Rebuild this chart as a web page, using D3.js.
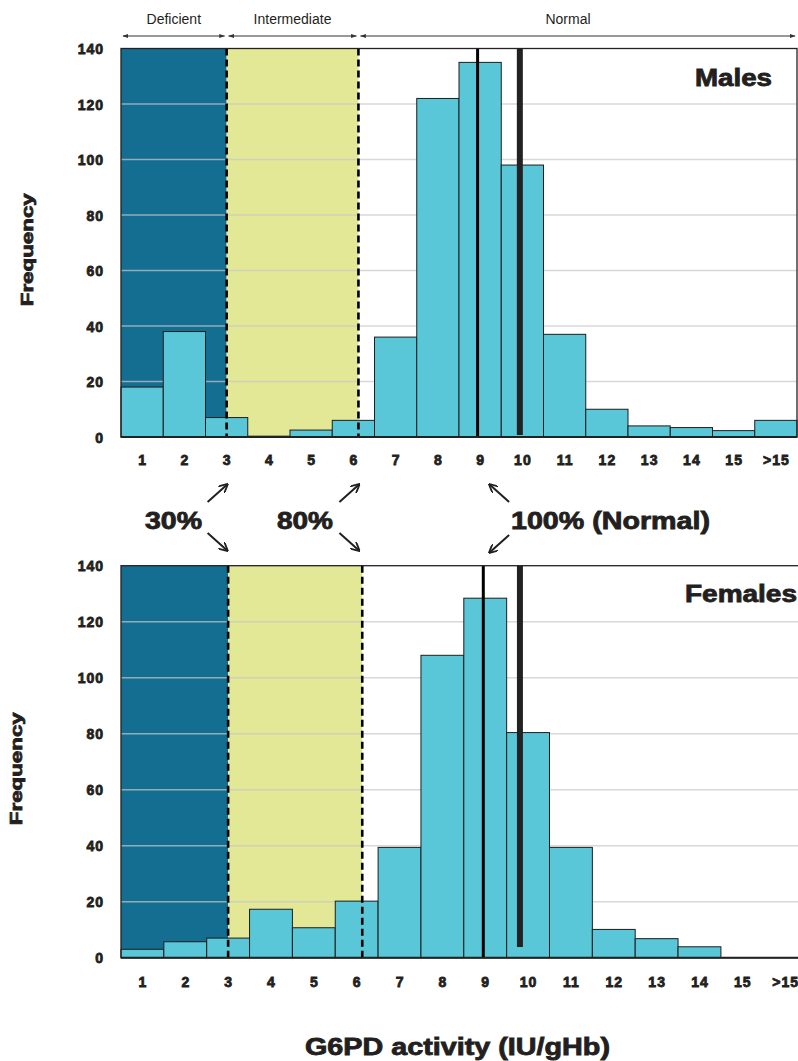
<!DOCTYPE html>
<html>
<head>
<meta charset="utf-8">
<script src="https://cdn.jsdelivr.net/npm/d3@7/dist/d3.min.js"></script>
<style>
  html, body { margin: 0; padding: 0; background: #fff; }
  svg { display: block; }
  text { font-family: "Liberation Sans", Arial, sans-serif; fill: #231f20; }
  .heavy { font-weight: bold; stroke: #231f20; stroke-width: 0.8px; }
</style>
</head>
<body>
<svg id="chart" width="798" height="1061"></svg>
<script>
// ---------------- DATA ----------------
const categories = ["1","2","3","4","5","6","7","8","9","10","11","12","13","14","15",">15"];
const maleValues   = [18, 38, 7, 0.3, 2.5, 6, 36, 122, 135, 98, 37, 10, 4, 3.4, 2.3, 6];
const femaleValues = [3, 5.7, 7, 17.3, 10.7, 20.2, 39.4, 108, 128.4, 80.4, 39.4, 10.1, 6.8, 3.9, 0, 0];
const yTicks = [0, 20, 40, 60, 80, 100, 120, 140];
const zoneNames = ["Deficient", "Intermediate", "Normal"];
// zone limits in activity units (bin k centred on k)
const maleZoneLimits = [3, 6.12];
const femaleZoneLimits = [3, 6.13];
// reference lines: [position, from value, to value, kind]
const maleRefLines = [[8.94, 0, 140, "thin"], [9.94, 0.7, 140, "thick"]];
const femaleRefLines = [[8.955, 0, 140, "thin"], [9.81, 3.8, 140, "thick"]];
const percentLabels = ["30%", "80%", "100% (Normal)"];
const percentTargets = [3, 6.12, 9];

// ---------------- LAYOUT ----------------
const svg = d3.select("#chart");
const colDef = "#146e91", colInt = "#e3e897", colBar = "#59c7d8";

function heavyText(sel, size, width) {
  sel.attr("class", "heavy").attr("font-size", size);
  if (width) sel.attr("textLength", width).attr("lengthAdjust", "spacingAndGlyphs");
  return sel;
}

function panel(opts) {
  const x = d3.scaleLinear().domain([0.5, 16.5]).range([121, opts.right]);
  const y = d3.scaleLinear().domain([0, 140]).range([opts.bottom, opts.top]);
  const g = svg.append("g");
  const [z1, z2] = opts.zones;

  // backgrounds
  g.append("rect").attr("x", x(0.5)).attr("y", y(140)).attr("width", x(z1) - x(0.5))
    .attr("height", y(0) - y(140)).attr("fill", colDef);
  g.append("rect").attr("x", x(z1)).attr("y", y(140)).attr("width", x(z2) - x(z1))
    .attr("height", y(0) - y(140)).attr("fill", colInt);

  // gridlines
  g.selectAll(".grid").data(yTicks.filter(d => d > 0 && d < 140)).enter().append("line")
    .attr("x1", x(0.5)).attr("x2", x(16.5)).attr("y1", d => y(d)).attr("y2", d => y(d))
    .attr("stroke", "#c8c8c8").attr("stroke-width", 1.5).attr("stroke-opacity", 0.7);

  // bars
  g.selectAll(".bar").data(opts.values).enter().append("rect")
    .attr("x", (d, i) => x(i + 0.5)).attr("width", (d, i) => x(i + 1.5) - x(i + 0.5))
    .attr("y", d => y(d)).attr("height", d => y(0) - y(d))
    .attr("fill", colBar).attr("stroke", "#1d1d1d").attr("stroke-width", 1);

  // dashed zone limits
  [z1, z2].forEach(v => {
    g.append("line").attr("x1", x(v)).attr("x2", x(v)).attr("y1", y(140)).attr("y2", y(0))
      .attr("stroke", "#000").attr("stroke-width", 2.6).attr("stroke-dasharray", "7,4");
  });

  // reference lines
  opts.refLines.forEach(([pos, a, b, kind]) => {
    g.append("line").attr("x1", x(pos)).attr("x2", x(pos)).attr("y1", y(b)).attr("y2", y(a))
      .attr("stroke", kind === "thick" ? "#222" : "#000")
      .attr("stroke-width", kind === "thick" ? 6 : 3);
  });

  // frame
  g.append("rect").attr("x", x(0.5)).attr("y", y(140)).attr("width", x(16.5) - x(0.5))
    .attr("height", y(0) - y(140)).attr("fill", "none").attr("stroke", "#222").attr("stroke-width", 1.3);
  g.append("line").attr("x1", x(0.5)).attr("x2", x(16.5)).attr("y1", y(0)).attr("y2", y(0))
    .attr("stroke", "#222").attr("stroke-width", 2);

  // y axis labels
  const yAxis = d3.axisLeft(y).tickValues(yTicks).tickSize(0).tickPadding(0);
  const ya = g.append("g").attr("transform", `translate(${opts.yLabelX},0)`).call(yAxis);
  ya.select(".domain").remove();
  ya.selectAll("text").attr("class", "heavy").attr("font-size", 14)
    .style("letter-spacing", "1px").attr("dy", "0.36em").attr("x", 0);

  // x axis labels
  const xAxis = d3.axisBottom(x).tickValues(d3.range(1, 17)).tickFormat(d => categories[d - 1])
    .tickSize(0).tickPadding(0);
  const xa = g.append("g").attr("transform", `translate(0,${y(0) + opts.xLabelDy})`).call(xAxis);
  xa.select(".domain").remove();
  xa.selectAll("text").attr("class", "heavy").attr("font-size", 14).style("letter-spacing", "1px")
    .attr("dy", 0).attr("y", 0);

  // panel title
  heavyText(g.append("text").attr("x", opts.titleX - opts.titleW).attr("y", opts.titleY), 23, opts.titleW)
    .text(opts.title);

  // y title
  heavyText(g.append("text"), 17, 113)
    .attr("text-anchor", "middle")
    .attr("transform", `translate(${opts.yTitleX},${(y(0) + y(140)) / 2 + 7}) rotate(-90)`)
    .text("Frequency");
  return { x, y };
}

const male = panel({ top: 48.5, bottom: 437, right: 797, values: maleValues, zones: maleZoneLimits,
  refLines: maleRefLines, title: "Males", titleX: 772, titleW: 77, titleY: 86, yTitleX: 33, yLabelX: 104, xLabelDy: 28 });
const female = panel({ top: 565.7, bottom: 957.7, right: 806.6, values: femaleValues, zones: femaleZoneLimits,
  refLines: femaleRefLines, title: "Females", titleX: 797, titleW: 112, titleY: 602, yTitleX: 22, yLabelX: 104, xLabelDy: 29 });

// ---------------- HEADER ZONES ----------------
const mx = male.x;
const zoneSpans = [[0.5, maleZoneLimits[0]], [maleZoneLimits[0], maleZoneLimits[1]], [maleZoneLimits[1], 16.5]];
const defs = svg.append("defs");
defs.append("marker").attr("id", "ah").attr("viewBox", "0 0 10 10").attr("refX", 9).attr("refY", 5)
  .attr("markerWidth", 6).attr("markerHeight", 6).attr("orient", "auto-start-reverse")
  .append("path").attr("d", "M0,1.5 L10,5 L0,8.5 Z").attr("fill", "#333");
zoneSpans.forEach(([a, b], i) => {
  svg.append("line").attr("x1", mx(a) + 2).attr("x2", mx(b) - 2).attr("y1", 36).attr("y2", 36)
    .attr("stroke", "#333").attr("stroke-width", 1)
    .attr("marker-start", "url(#ah)").attr("marker-end", "url(#ah)");
  svg.append("text").attr("x", i === 2 ? 568 : (mx(a) + mx(b)) / 2).attr("y", 24)
    .attr("text-anchor", "middle").attr("font-size", 14).attr("fill", "#333").text(zoneNames[i]);
});

// ---------------- MIDDLE ANNOTATIONS ----------------
defs.append("marker").attr("id", "ah2").attr("viewBox", "0 0 10 10").attr("refX", 8).attr("refY", 5)
  .attr("markerWidth", 4.5).attr("markerHeight", 4.5).attr("orient", "auto")
  .append("path").attr("d", "M0,0 L10,5 L0,10").attr("fill", "none").attr("stroke", "#231f20").attr("stroke-width", 2);
function arrow(x1, y1, x2, y2) {
  svg.append("line").attr("x1", x1).attr("y1", y1).attr("x2", x2).attr("y2", y2)
    .attr("stroke", "#231f20").attr("stroke-width", 2).attr("marker-end", "url(#ah2)");
}
percentTargets.forEach((t, i) => {
  const tx = mx(t);
  if (i < 2) {
    arrow(tx - 19, 502, tx, 485);
    arrow(tx - 19, 533, tx, 550);
  } else {
    arrow(tx + 29, 502, tx + 10, 485);
    arrow(tx + 29, 535, tx + 10, 552);
  }
});
heavyText(svg.append("text").attr("x", 145).attr("y", 529), 23, 57).text(percentLabels[0]);
heavyText(svg.append("text").attr("x", 277).attr("y", 529), 23, 56).text(percentLabels[1]);
heavyText(svg.append("text").attr("x", 511).attr("y", 529), 23, 199).text(percentLabels[2]);

// ---------------- X TITLE ----------------
heavyText(svg.append("text").attr("x", 305).attr("y", 1055), 23, 305).text("G6PD activity (IU/gHb)");
</script>
</body>
</html>
